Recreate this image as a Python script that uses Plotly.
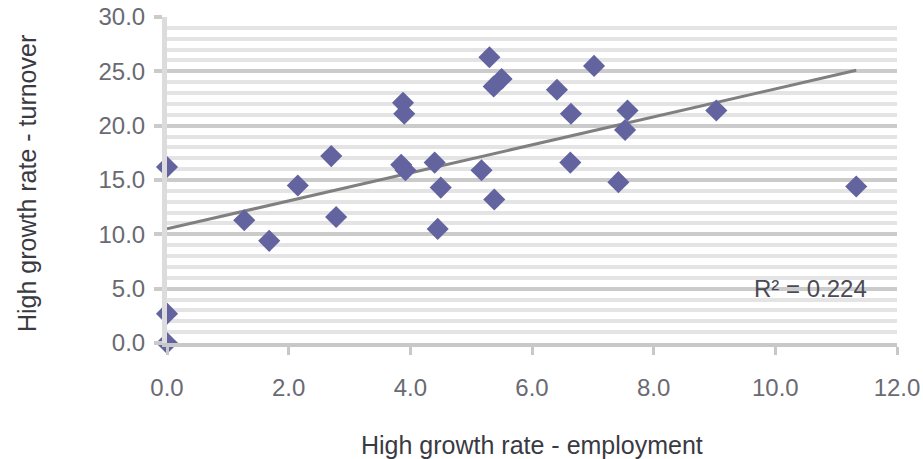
import numpy as np
import plotly.graph_objects as go

# Data
employment = [0.0, 0.0, 0.0, 1.27, 1.68, 2.15, 2.70, 2.78, 3.88, 3.90, 3.85, 3.92,
              4.40, 4.50, 4.45, 5.17, 5.30, 5.37, 5.50, 5.38, 6.41, 6.64, 6.63,
              7.02, 7.57, 7.53, 7.42, 9.03, 11.33]
turnover = [16.2, 2.7, 0.0, 11.3, 9.4, 14.5, 17.2, 11.6, 22.1, 21.1, 16.4, 15.9,
            16.6, 14.3, 10.5, 15.9, 26.3, 23.6, 24.3, 13.2, 23.3, 21.1, 16.6,
            25.5, 21.4, 19.6, 14.8, 21.4, 14.4]

trend_x = [0.0, 11.33]
trend_y = [10.5, 25.1]
r2_label = "R² = 0.224"
x_title = "High growth rate - employment"
y_title = "High growth rate - turnover"

x_ticks = [0, 2, 4, 6, 8, 10, 12]
y_ticks = [0, 5, 10, 15, 20, 25, 30]

FONT = "Liberation Sans, Arial, sans-serif"

fig = go.Figure()
fig.add_trace(go.Scatter(x=trend_x, y=trend_y, mode="lines",
                         line=dict(color="#808080", width=3), hoverinfo="skip"))
fig.add_trace(go.Scatter(x=employment, y=turnover, mode="markers",
                         marker=dict(symbol="diamond", size=17, color="#63639f"),
                         cliponaxis=False))

tickfont = dict(family=FONT, size=24, color="#6a6a72")
fig.update_layout(
    width=923, height=459,
    margin=dict(l=167, r=26, t=17, b=116),
    paper_bgcolor="white", plot_bgcolor="white",
    showlegend=False,
    xaxis=dict(range=[0, 12], tickvals=x_ticks, ticktext=[f"{v:.1f}" for v in x_ticks],
               automargin=False, ticklabeloverflow="allow",
               showgrid=False, zeroline=False, showline=True, linecolor="#c8c8c8",
               linewidth=4, ticks="outside", ticklen=8, tickwidth=3, tickcolor="#c8c8c8",
               tickfont=tickfont, ticklabelstandoff=12),
    yaxis=dict(range=[0, 30], tickvals=y_ticks, ticktext=[f"{v:.1f}" for v in y_ticks],
               automargin=False, ticklabeloverflow="allow",
               showgrid=True, gridcolor="#cbcbcb", gridwidth=4, zeroline=False,
               showline=True, linecolor="#dcdcdc", linewidth=5,
               ticks="outside", ticklen=8, tickwidth=4, tickcolor="#cbcbcb",
               minor=dict(dtick=1, showgrid=True, gridcolor="#e4e4e4", gridwidth=4),
               tickfont=tickfont, ticklabelstandoff=4),
    annotations=[
        dict(x=10.58, y=5.0, xref="x", yref="y", text=r2_label, showarrow=False,
             font=dict(family=FONT, size=24, color="#4a4a55")),
        dict(x=0.5, y=-0.313, xref="paper", yref="paper", text=x_title, showarrow=False,
             xanchor="center", yanchor="middle",
             font=dict(family=FONT, size=25, color="#3a3a42")),
        dict(x=-0.192, y=0.49, xref="paper", yref="paper", text=y_title, showarrow=False,
             textangle=-90, xanchor="center", yanchor="middle",
             font=dict(family=FONT, size=25, color="#3a3a42")),
    ],
)

# remove the default 8px page margin so the figure fills the window exactly
fig.write_html("out.html", config={"displayModeBar": False},
               post_script="document.body.style.margin='0';")
